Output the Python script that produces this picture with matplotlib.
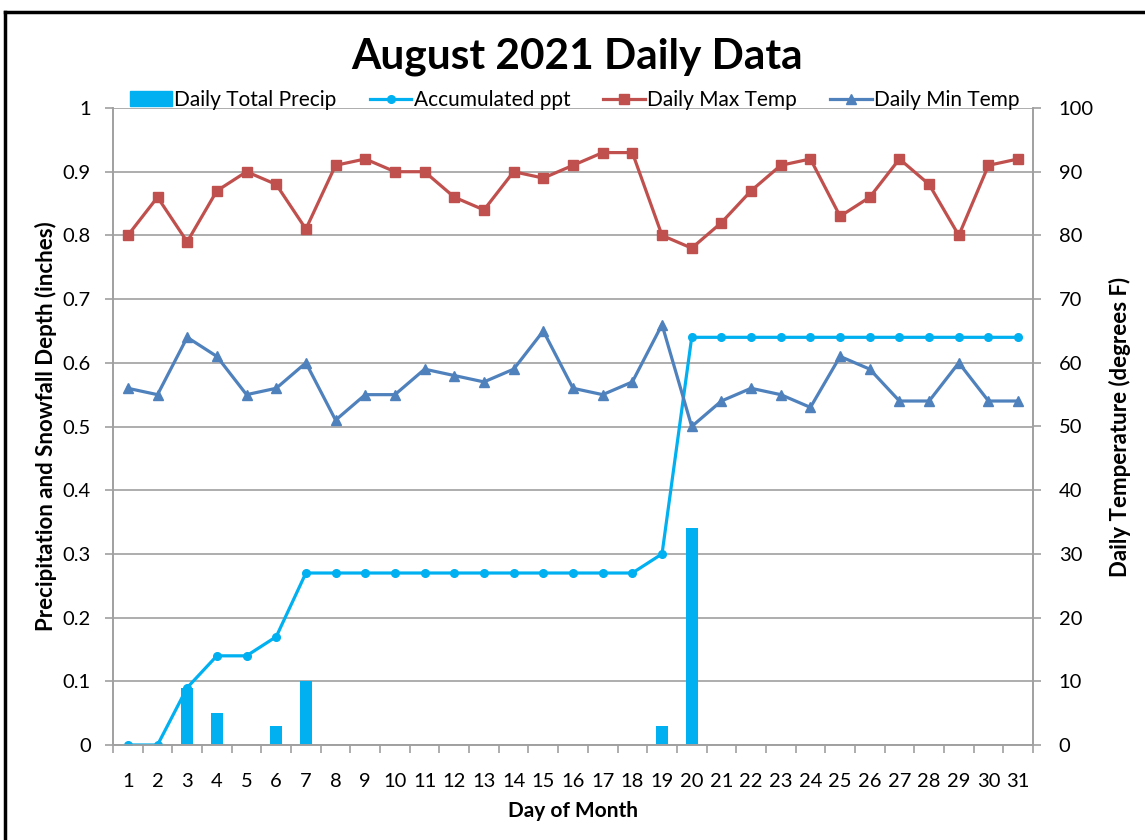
import matplotlib.pyplot as plt
from matplotlib.lines import Line2D
from matplotlib.patches import Patch

# --- datos ---
dias = list(range(1, 32))
precip_diaria = [0, 0, 0.09, 0.05, 0, 0.03, 0.10, 0, 0, 0, 0, 0, 0, 0, 0, 0,
                 0, 0, 0.03, 0.34, 0, 0, 0, 0, 0, 0, 0, 0, 0, 0, 0]
precip_acum = [0, 0, 0.09, 0.14, 0.14, 0.17, 0.27, 0.27, 0.27, 0.27, 0.27, 0.27,
               0.27, 0.27, 0.27, 0.27, 0.27, 0.27, 0.30, 0.64, 0.64, 0.64, 0.64,
               0.64, 0.64, 0.64, 0.64, 0.64, 0.64, 0.64, 0.64]
temp_max = [80, 86, 79, 87, 90, 88, 81, 91, 92, 90, 90, 86, 84, 90, 89, 91,
            93, 93, 80, 78, 82, 87, 91, 92, 83, 86, 92, 88, 80, 91, 92]
temp_min = [56, 55, 64, 61, 55, 56, 60, 51, 55, 55, 59, 58, 57, 59, 65, 56,
            55, 57, 66, 50, 54, 56, 55, 53, 61, 59, 54, 54, 60, 54, 54]

c_precip = "#00B0F0"
c_max = "#C0504D"
c_min = "#4F81BD"
gris = "#A0A0A0"

plt.rcParams["font.family"] = ["Lato", "DejaVu Sans"]

fig = plt.figure(figsize=(11.45, 8.4), dpi=100)
ax = fig.add_axes([113 / 1145, 1 - 745 / 840, 920 / 1145, 637 / 840])
ax2 = ax.twinx()

ax.bar(dias, precip_diaria, width=0.4, color=c_precip, zorder=2)
ax.plot(dias, precip_acum, color=c_precip, lw=2.3, marker="o", ms=5.5, zorder=3)
ax2.plot(dias, temp_max, color=c_max, lw=2.3, marker="s", ms=7)
ax2.plot(dias, temp_min, color=c_min, lw=2.3, marker="^", ms=7.5)

ax.set_xlim(0.5, 31.5)
ax.set_ylim(0, 1)
ax2.set_ylim(0, 100)
ax.set_yticks([i / 10 for i in range(11)])
ax.set_yticklabels(["0"] + [f"{i / 10:.1f}" for i in range(1, 10)] + ["1"])
ax2.set_yticks(range(0, 101, 10))
ax.set_xticks(dias)
ax.set_xticks([d + 0.5 for d in range(0, 32)], minor=True)
ax.tick_params(axis="x", which="major", length=0, pad=20)
ax.tick_params(axis="x", which="minor", length=6, color=gris, width=1.2)
ax.tick_params(axis="y", length=6, color=gris, width=1.2, pad=10)
ax2.tick_params(axis="y", length=6, color=gris, width=1.2, pad=12.5)
for a in (ax, ax2):
    a.tick_params(labelsize=14.5)
ax.grid(axis="y", color=gris, lw=1.2, zorder=0)
ax.set_axisbelow(True)

for a in (ax, ax2):
    for lado in ("left", "right", "bottom"):
        a.spines[lado].set_color(gris)
        a.spines[lado].set_linewidth(1.2)
    a.spines["top"].set_visible(False)

ax.set_xlabel("Day of Month", fontsize=15, fontweight="bold", labelpad=8)
ax.set_ylabel("Precipitation and Snowfall Depth (inches)", fontsize=16,
              fontweight="bold", labelpad=4)
ax2.set_ylabel("Daily Temperature (degrees F)", fontsize=16, fontweight="bold",
               labelpad=11)
fig.text(577 / 1145, 1 - 57 / 840, "August 2021 Daily Data", ha="center", va="center",
         fontsize=30.5, fontweight="bold")

elementos = [
    Patch(color=c_precip),
    Line2D([], [], color=c_precip, lw=2.3, marker="o", ms=5.5),
    Line2D([], [], color=c_max, lw=2.3, marker="s", ms=7),
    Line2D([], [], color=c_min, lw=2.3, marker="^", ms=7.5),
]
nombres = ["Daily Total Precip", "Accumulated ppt", "Daily Max Temp", "Daily Min Temp"]
fig.legend(elementos, nombres, loc="center", bbox_to_anchor=(575 / 1145, 1 - 100 / 840),
           ncol=4, frameon=False, fontsize=15, handlelength=2.0, handletextpad=0.1,
           columnspacing=1.6)

# marco negro del grafico
fig.add_artist(Line2D([5 / 1145, 1], [1 - 12 / 840, 1 - 12 / 840], color="black", lw=2.5))
fig.add_artist(Line2D([5 / 1145, 5 / 1145], [0, 1 - 12 / 840], color="black", lw=2.5))

fig.savefig("out.png", dpi=100)
